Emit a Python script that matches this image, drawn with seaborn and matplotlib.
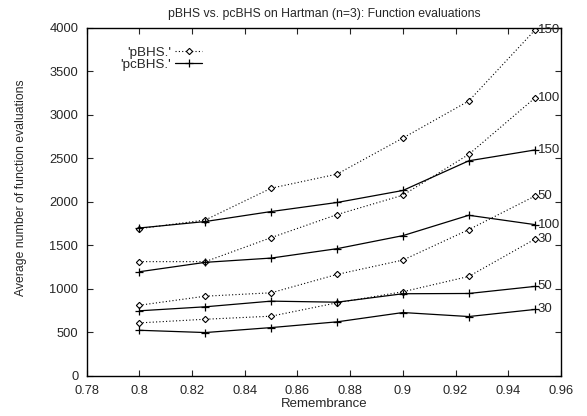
import numpy as np
import pandas as pd
import matplotlib
matplotlib.use("Agg")
import matplotlib.pyplot as plt
import seaborn as sns

remembrance = [0.8, 0.825, 0.85, 0.875, 0.9, 0.925, 0.95]

pbhs_30 = [607, 649, 684, 838, 965, 1141, 1568]
pbhs_50 = [810, 914, 953, 1164, 1329, 1679, 2063]
pbhs_100 = [1311, 1311, 1587, 1852, 2075, 2544, 3190]
pbhs_150 = [1690, 1790, 2155, 2317, 2732, 3158, 3969]

pcbhs_30 = [522, 496, 553, 619, 726, 680, 761]
pcbhs_50 = [746, 792, 857, 845, 942, 945, 1026]
pcbhs_100 = [1195, 1303, 1352, 1460, 1610, 1844, 1737]
pcbhs_150 = [1698, 1772, 1887, 1991, 2129, 2470, 2594]

sizes = ["30", "50", "100", "150"]
methods = ["'pBHS.'", "'pcBHS.'"]

rows = []
for m, series in zip(methods, [[pbhs_30, pbhs_50, pbhs_100, pbhs_150],
                               [pcbhs_30, pcbhs_50, pcbhs_100, pcbhs_150]]):
    for s, vals in zip(sizes, series):
        for x, y in zip(remembrance, vals):
            rows.append({"method": m, "size": s, "x": x, "y": y})
df = pd.DataFrame(rows)

sns.set_style("ticks")
plt.rcParams["font.family"] = ["Liberation Sans", "DejaVu Sans"]
plt.rcParams["font.size"] = 9

fig = plt.figure(figsize=(5.87, 4.16), dpi=100)
ax = fig.add_axes([86.7 / 587, 1 - 375.7 / 416, (561 - 86.7) / 587, (375.7 - 27.7) / 416])

styles = {
    "'pBHS.'": dict(linestyle=(0, (1.0, 2.0)), marker="D", markersize=3.2,
                    markerfacecolor="white", markeredgecolor="black", markeredgewidth=0.8, linewidth=0.8),
    "'pcBHS.'": dict(linestyle="-", marker="+", markersize=6, markeredgewidth=0.9,
                     markeredgecolor="black", linewidth=0.9),
}

for m in methods:
    for i, s in enumerate(sizes):
        sub = df[(df.method == m) & (df["size"] == s)]
        sns.lineplot(data=sub, x="x", y="y", ax=ax, color="black",
                     label=m if i == 0 else None, legend=False, **styles[m])
        last = sub.iloc[-1]
        ax.annotate(s, xy=(last.x, last.y), xytext=(2.2, 0), textcoords="offset points",
                    ha="left", va="center", fontsize=9.5, annotation_clip=False)

ax.set_xlim(0.78, 0.96)
ax.set_ylim(0, 4000)
ax.set_xticks(np.arange(0.78, 0.9601, 0.02))
ax.set_xticklabels(["0.78", "0.8", "0.82", "0.84", "0.86", "0.88", "0.9", "0.92", "0.94", "0.96"])
ax.set_yticks(np.arange(0, 4001, 500))
ax.tick_params(direction="in", top=True, right=True, length=4.5, width=0.8, labelsize=9.3)
ax.tick_params(axis="x", pad=6.5)
ax.tick_params(axis="y", pad=6)
for sp in ax.spines.values():
    sp.set_linewidth(1.0)
    sp.set_color("black")

ax.set_xlabel("Remembrance", fontsize=9.5, labelpad=1)
ax.set_ylabel("Average number of function evaluations", fontsize=8.8)
ax.yaxis.set_label_coords(-0.126, 0.539)
ax.set_title("pBHS vs. pcBHS on Hartman (n=3): Function evaluations", fontsize=8.8, pad=8)

ax.legend(loc="upper left", bbox_to_anchor=(0.06, 0.962), frameon=False, markerfirst=False,
          handlelength=2.0, fontsize=9.6, borderaxespad=0, labelspacing=0.0, handletextpad=0.3,
          numpoints=1)

fig.savefig("out.png", dpi=100)
